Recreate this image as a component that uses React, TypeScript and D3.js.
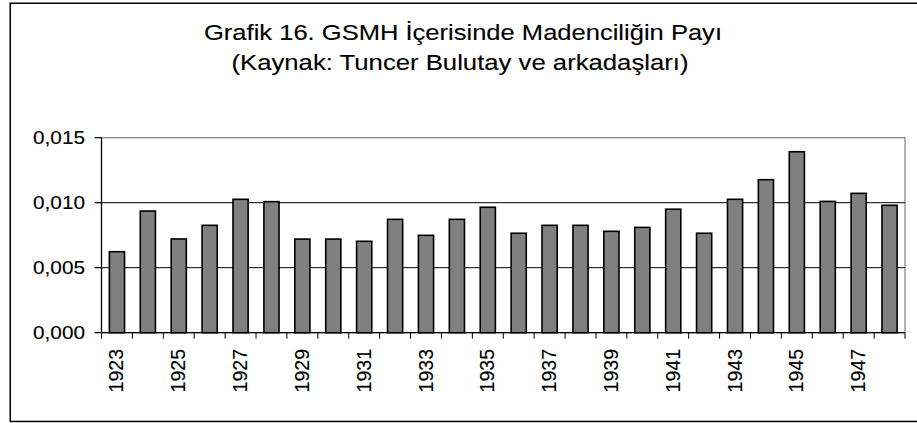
import React from "react";
import * as d3 from "d3";

const years: number[] = [
  1923, 1924, 1925, 1926, 1927, 1928, 1929, 1930, 1931, 1932, 1933, 1934, 1935,
  1936, 1937, 1938, 1939, 1940, 1941, 1942, 1943, 1944, 1945, 1946, 1947, 1948,
];
const shares: number[] = [
  0.00623, 0.00936, 0.00721, 0.00826, 0.01026, 0.01008, 0.0072, 0.0072, 0.00703,
  0.00872, 0.00749, 0.00872, 0.00965, 0.00765, 0.00826, 0.00826, 0.0078, 0.0081,
  0.0095, 0.00765, 0.01026, 0.01177, 0.01392, 0.0101, 0.01072, 0.0098,
];
const yTicks: number[] = [0, 0.005, 0.01, 0.015];
const xTickLabels: number[] = [1923, 1925, 1927, 1929, 1931, 1933, 1935, 1937, 1939, 1941, 1943, 1945, 1947];
const titleLines: string[] = [
  "Grafik 16. GSMH İçerisinde Madenciliğin Payı",
  "(Kaynak: Tuncer Bulutay ve arkadaşları)",
];

const W = 917;
const H = 423;
const FONT = "'Liberation Sans', Arial, sans-serif";

export default function App() {
  const left = 101.5;
  const right = 905;
  const top = 137.7;
  const bottom = 332.7;

  const x = d3.scaleBand<number>().domain(years).range([left, right]).padding(0);
  const y = d3.scaleLinear().domain([0, 0.015]).range([bottom, top]);
  const loc = d3.formatLocale({ decimal: ",", thousands: ".", grouping: [3], currency: ["", ""] });
  const fmt = loc.format(".3f");

  const bw = x.bandwidth() * 0.49;
  const boundaries = [...years.map((d) => x(d) as number), right];
  const soft = { stroke: "#000", strokeWidth: 0.12 };

  return (
    <svg
      width={W}
      height={H}
      style={{ position: "fixed", left: 0, top: 0, display: "block", background: "#fff" }}
      fontFamily={FONT}
    >
      <rect x={0} y={0} width={W} height={H} fill="#fff" />
      <rect x={10.25} y={3.25} width={930} height={418.2} fill="none" stroke="#000" strokeWidth={1.5} />

      <text x={463} y={39.5} fontSize={21.5} textAnchor="middle" textLength={518} lengthAdjust="spacingAndGlyphs" {...soft}>
        {titleLines[0]}
      </text>
      <text x={460} y={70} fontSize={21.5} textAnchor="middle" textLength={457} lengthAdjust="spacingAndGlyphs" {...soft}>
        {titleLines[1]}
      </text>

      {/* plot area border */}
      <rect x={left} y={top} width={right - left} height={bottom - top} fill="none" stroke="#808080" strokeWidth={1.2} />

      {/* gridlines */}
      {yTicks
        .filter((t) => t > 0 && t < 0.015)
        .map((t) => (
          <line key={"g" + t} x1={left} x2={right} y1={y(t)} y2={y(t)} stroke="#000" strokeWidth={1} />
        ))}

      {/* bars */}
      {years.map((yr, i) => {
        const cx = (x(yr) as number) + x.bandwidth() / 2;
        return (
          <rect
            key={yr}
            x={cx - bw / 2}
            y={y(shares[i])}
            width={bw}
            height={bottom - y(shares[i])}
            fill="#808080"
            stroke="#000"
            strokeWidth={1.6}
          />
        );
      })}

      {/* y axis */}
      <line x1={left} x2={left} y1={top} y2={bottom} stroke="#000" strokeWidth={1.2} />
      {yTicks.map((t) => (
        <g key={"yt" + t}>
          <line x1={left - 7} x2={left} y1={y(t)} y2={y(t)} stroke="#000" strokeWidth={1.2} />
          <text
            x={85}
            y={y(t)}
            dy="0.36em"
            fontSize={18.5}
            textAnchor="end"
            textLength={52}
            lengthAdjust="spacingAndGlyphs"
            {...soft}
          >
            {fmt(t)}
          </text>
        </g>
      ))}

      {/* x axis */}
      <line x1={left} x2={right} y1={bottom} y2={bottom} stroke="#000" strokeWidth={1.2} />
      {boundaries.map((b, i) => (
        <line key={"xt" + i} x1={b} x2={b} y1={bottom} y2={bottom + 6} stroke="#000" strokeWidth={1} />
      ))}
      {xTickLabels.map((yr) => {
        const cx = (x(yr) as number) + x.bandwidth() / 2;
        return (
          <text
            key={"xl" + yr}
            transform={`translate(${cx - 0.5},349) rotate(-90)`}
            dy="0.36em"
            fontSize={19.5}
            textAnchor="end"
            {...soft}
          >
            {yr}
          </text>
        );
      })}
    </svg>
  );
}
